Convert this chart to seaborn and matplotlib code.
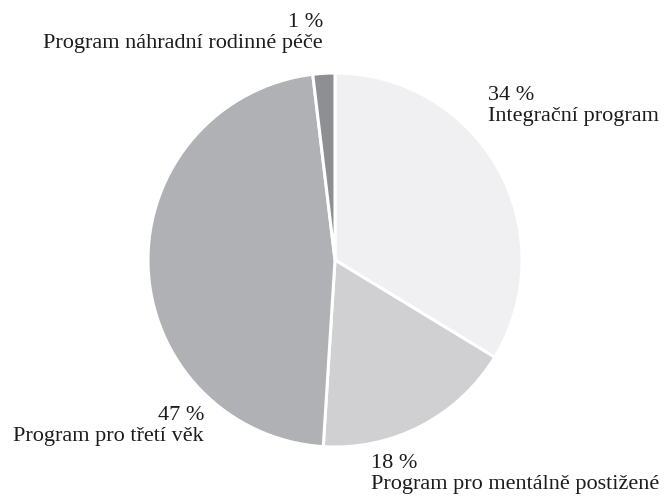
import matplotlib
matplotlib.use("Agg")
import matplotlib.pyplot as plt
import seaborn as sns

categories = ["Integrační program", "Program pro mentálně postižené",
              "Program pro třetí věk", "Program náhradní rodinné péče"]
values = [33.7, 17.3, 47.1, 1.9]
pct_labels = ["34 %", "18 %", "47 %", "1 %"]
colors = ["#f0f0f2", "#d0d0d3", "#b0b1b5", "#8e8f93"]

sns.set_theme(style="white")
plt.rcParams["font.family"] = ["Liberation Serif", "DejaVu Serif"]

W, H = 668, 497
fig = plt.figure(figsize=(W / 100, H / 100), dpi=100)
ax = fig.add_axes([0, 0, 1, 1])
ax.pie(values, colors=sns.color_palette(colors), startangle=90, counterclock=False,
       center=(335, H - 260), radius=187,
       wedgeprops=dict(edgecolor="white", linewidth=2.2))
ax.set_xlim(0, W)
ax.set_ylim(0, H)
ax.set_aspect("equal")
ax.axis("off")

# label positions (pixels from top-left): x, y_top, ha
label_pos = [(488, 86, "left"), (371, 454, "left"), (204, 406, "right"), (323, 13, "right")]
for cat, pl, (x, y, ha) in zip(categories, pct_labels, label_pos):
    ax.text(x, H - y, f"{pl}\n{cat}", ha=ha, va="top", fontsize=16,
            color="#1c1c1c", linespacing=1.15, multialignment=ha)

fig.savefig("out.png", dpi=100, facecolor="white")
